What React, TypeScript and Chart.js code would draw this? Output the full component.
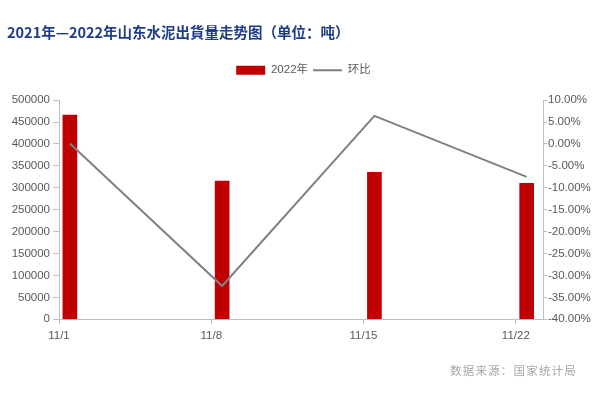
import React, { useEffect, useRef } from 'react';
import { Chart, registerables, ChartConfiguration } from 'chart.js';

Chart.register(...registerables);

// weekly dates (November) and values
const dateLabels = ['11/1', '11/8', '11/15', '11/22'];
const shipments = [466000, 315000, 335000, 310000];
const momChange = [0.1, -32.4, 6.4, -7.5];

const titleText = '2021年—2022年山东水泥出貨量走势图（单位：吨）';
const sourceText = '数据来源：国家统计局';

const days = dateLabels.map((d) => Number(d.split('/')[1]));
const labelFor = (day: number) => {
  const i = days.indexOf(day);
  return i >= 0 ? dateLabels[i] : '';
};

const axisColor = '#bfbfbf';
const tickColor = '#595959';
const tickFont = { family: '"Liberation Sans", "Noto Sans CJK SC", sans-serif', size: 11.5 };

const App: React.FC = () => {
  const canvasRef = useRef<HTMLCanvasElement | null>(null);

  useEffect(() => {
    if (!canvasRef.current) return;
    const ctx = canvasRef.current.getContext('2d');
    if (!ctx) return;

    // bars and points sit in the middle of each day on the date axis
    const config: ChartConfiguration = {
      type: 'bar',
      data: {
        datasets: [
          {
            type: 'bar',
            label: '2022年',
            data: days.map((d, i) => ({ x: d + 0.5, y: shipments[i] })),
            backgroundColor: '#c00000',
            borderColor: '#c00000',
            borderWidth: 0,
            barThickness: 14,
            yAxisID: 'y',
            order: 2,
          },
          {
            type: 'line',
            label: '环比',
            data: days.map((d, i) => ({ x: d + 0.5, y: momChange[i] })),
            borderColor: '#808080',
            backgroundColor: '#808080',
            borderWidth: 2,
            pointRadius: 0,
            tension: 0,
            yAxisID: 'y1',
            order: 1,
          },
        ],
      } as any,
      options: {
        animation: false,
        responsive: true,
        maintainAspectRatio: false,
        layout: { padding: { left: 7, right: 0, top: 0, bottom: 50.7 } },
        plugins: {
          title: {
            display: true,
            text: titleText,
            align: 'start',
            color: '#1f3c88',
            font: { family: '"Noto Sans CJK SC", sans-serif', size: 14.5, weight: 'bold', lineHeight: 1.2 },
            padding: { top: 24, bottom: 18 },
          },
          legend: {
            display: true,
            position: 'top',
            labels: {
              usePointStyle: true,
              pointStyleWidth: 29,
              boxHeight: 9,
              padding: 5,
              color: tickColor,
              font: tickFont,
              sort: (a, b) => (a.datasetIndex ?? 0) - (b.datasetIndex ?? 0),
              generateLabels: (chart) =>
                Chart.defaults.plugins.legend.labels.generateLabels(chart).map((l) =>
                  l.datasetIndex === 0
                    ? { ...l, pointStyle: 'rect', fillStyle: '#c00000', strokeStyle: '#c00000', lineWidth: 0 }
                    : { ...l, pointStyle: 'line', strokeStyle: '#808080', lineWidth: 2 }
                ),
            },
          },
          subtitle: {
            display: true,
            text: '',
            weight: 500,
            font: { size: 10, lineHeight: 1 },
            padding: { top: 0, bottom: 4.2 },
          } as any,
          tooltip: { enabled: false },
        },
        scales: {
          x: {
            type: 'linear',
            min: days[0],
            max: days[days.length - 1] + 1.25,
            offset: false,
            afterBuildTicks: (scale) => {
              scale.ticks = days.map((d) => ({ value: d }));
            },
            afterFit: (scale) => {
              scale.height = 30;
            },
            ticks: {
              color: tickColor,
              font: tickFont,
              padding: 5,
              maxRotation: 0,
              callback: (v) => labelFor(Number(v)),
            },
            grid: { display: true, drawOnChartArea: false, offset: false, tickLength: 5, color: axisColor },
            border: { color: axisColor },
          },
          y: {
            position: 'left',
            min: 0,
            max: 500000,
            afterFit: (scale) => {
              scale.width = 52;
            },
            ticks: {
              stepSize: 50000,
              color: tickColor,
              font: tickFont,
              padding: 3,
              callback: (v) => String(v),
            },
            grid: { drawOnChartArea: false, tickLength: 6, color: axisColor },
            border: { color: axisColor },
          },
          y1: {
            position: 'right',
            min: -40,
            max: 10,
            afterFit: (scale) => {
              scale.width = 57;
            },
            ticks: {
              stepSize: 5,
              color: tickColor,
              font: tickFont,
              padding: 1,
              callback: (v) => Number(v).toFixed(2) + '%',
            },
            grid: { drawOnChartArea: false, tickLength: 4, color: axisColor },
            border: { color: axisColor },
          },
        },
      },
    };

    const chart = new Chart(ctx, config);
    return () => {
      chart.destroy();
    };
  }, []);

  return (
    <div style={{ position: 'fixed', left: 0, top: 0, width: 600, height: 400, background: '#fff' }}>
      <canvas ref={canvasRef}></canvas>
      <div
        style={{
          position: 'absolute',
          left: 450,
          top: 362,
          fontFamily: '"Noto Sans CJK SC", sans-serif',
          fontSize: 11.5,
          letterSpacing: 1.2,
          color: '#a6a6a6',
          whiteSpace: 'nowrap',
        }}
      >
        {sourceText}
      </div>
    </div>
  );
};

export default App;
